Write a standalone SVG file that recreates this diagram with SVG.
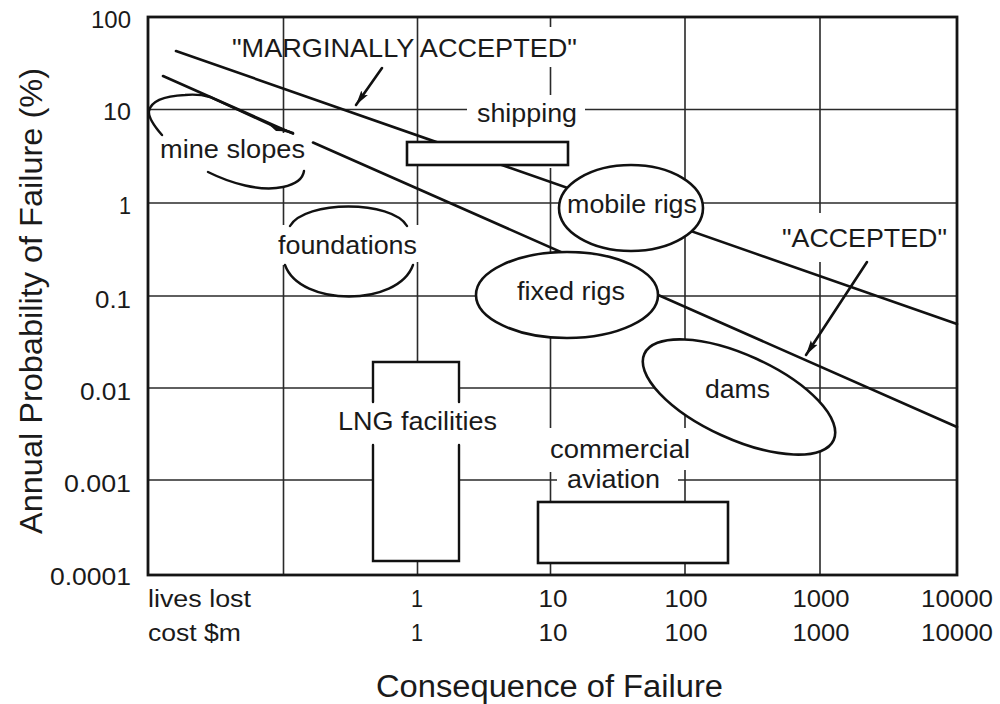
<svg xmlns="http://www.w3.org/2000/svg" width="1000" height="704" viewBox="0 0 1000 704">
  <style>
    text { font-family: "Liberation Sans", Arial, Helvetica, sans-serif; fill: #1a1a1a; }
    .grid { stroke: #2a2a2a; stroke-width: 1.6; fill: none; }
    .frame { stroke: #151515; stroke-width: 2.8; fill: none; }
    .line { stroke: #111; stroke-width: 2.6; fill: none; stroke-linecap: round; }
    .shape { stroke: #111; stroke-width: 2.6; fill: #fff; }
    .open { stroke: #111; stroke-width: 2.4; fill: none; stroke-linecap: round; }
    .lbl { font-size: 25px; }
    .tick { font-size: 23.5px; }
    .title { font-size: 31px; }
  </style>
  <defs>
    <marker id="arrowhead" markerUnits="userSpaceOnUse" markerWidth="18" markerHeight="12" refX="15" refY="6" orient="auto">
      <path d="M0,2 L15,6 L0,10 L3,6 Z" fill="#111"/>
    </marker>
  </defs>
  <rect width="1000" height="704" fill="#fff"/>

  <!-- log-log grid and frame -->
  <g id="axes">
    <g class="grid">
      <!-- horizontal decades: 10, 1, 0.1, 0.01, 0.001 % -->
      <path d="M148,109.5 H467 M585,109.5 H957"/>
      <path d="M148,203 H957"/>
      <path d="M148,296 H957"/>
      <path d="M148,388 H957"/>
      <path d="M148,480 H557 M678,480 H957"/>
      <!-- vertical decades -->
      <path d="M283.5,17 V133 M283.5,187 V225 M283.5,265 V575"/>
      <path d="M417.5,17 V225 M417.5,262 V362 M417.5,561 V575"/>
      <path d="M550.5,17 V27 M550.5,67 V95 M550.5,168 V428 M550.5,472 V575"/>
      <path d="M685,17 V428 M685,470 V575"/>
      <path d="M820,17 V213 M820,262 V575"/>
    </g>
    <rect class="frame" x="148" y="17" width="809" height="558"/>

    <!-- probability axis -->
    <g class="tick" text-anchor="end">
      <text x="131" y="28" textLength="40" lengthAdjust="spacingAndGlyphs">100</text>
      <text x="131" y="120" textLength="28" lengthAdjust="spacingAndGlyphs">10</text>
      <text x="131" y="214" textLength="12" lengthAdjust="spacingAndGlyphs">1</text>
      <text x="131" y="308" textLength="36" lengthAdjust="spacingAndGlyphs">0.1</text>
      <text x="131" y="400" textLength="51" lengthAdjust="spacingAndGlyphs">0.01</text>
      <text x="131" y="492" textLength="67" lengthAdjust="spacingAndGlyphs">0.001</text>
      <text x="131" y="585" textLength="81" lengthAdjust="spacingAndGlyphs">0.0001</text>
    </g>
    <text class="title" transform="translate(42,301) rotate(-90)" text-anchor="middle" textLength="466" lengthAdjust="spacingAndGlyphs">Annual Probability of Failure (%)</text>

    <!-- consequence axis -->
    <g class="tick">
      <text x="148" y="607" textLength="103" lengthAdjust="spacingAndGlyphs">lives lost</text>
      <text x="148" y="641" textLength="93" lengthAdjust="spacingAndGlyphs">cost $m</text>
    </g>
    <g class="tick" text-anchor="middle">
      <text x="417" y="607" textLength="12" lengthAdjust="spacingAndGlyphs">1</text>
      <text x="553" y="607" textLength="29" lengthAdjust="spacingAndGlyphs">10</text>
      <text x="686" y="607" textLength="43" lengthAdjust="spacingAndGlyphs">100</text>
      <text x="821" y="607" textLength="57" lengthAdjust="spacingAndGlyphs">1000</text>
      <text x="957" y="607" textLength="72" lengthAdjust="spacingAndGlyphs">10000</text>
      <text x="417" y="641" textLength="12" lengthAdjust="spacingAndGlyphs">1</text>
      <text x="553" y="641" textLength="29" lengthAdjust="spacingAndGlyphs">10</text>
      <text x="686" y="641" textLength="43" lengthAdjust="spacingAndGlyphs">100</text>
      <text x="821" y="641" textLength="57" lengthAdjust="spacingAndGlyphs">1000</text>
      <text x="957" y="641" textLength="72" lengthAdjust="spacingAndGlyphs">10000</text>
    </g>
    <text class="title" x="549.5" y="697" text-anchor="middle" textLength="347" lengthAdjust="spacingAndGlyphs">Consequence of Failure</text>
  </g>

  <!-- acceptance criteria lines and their callouts -->
  <g id="connectors">
    <path id="marginal-line" class="line" d="M176,51 L957,324"/>
    <path id="accepted-line" class="line" d="M163,76 L293,133.6 M313,142.5 L957,427"/>
    <path class="line" d="M382,68 L356,105" marker-end="url(#arrowhead)"/>
    <path class="line" d="M867,262 L806,355" marker-end="url(#arrowhead)"/>
  </g>

  <g id="mine-slopes">
    <path class="open" d="M162,135 C155,127 148,118 149,111 C151,101 165,96 185,95 C196,94 203,95 210,97 L281,129.5 L293,133"/>
    <path d="M266,122 L292,131.5 L276,131 Z" fill="#111"/>
    <path class="open" d="M208,172 C230,183 260,192 283,187 C297,184 303,178 304,171"/>
    <text class="lbl" x="160" y="158" textLength="145" lengthAdjust="spacingAndGlyphs">mine slopes</text>
  </g>

  <g id="shipping">
    <rect class="shape" x="407" y="142" width="161" height="23" stroke-width="3"/>
    <text class="lbl" x="477" y="122" textLength="100" lengthAdjust="spacingAndGlyphs">shipping</text>
  </g>

  <g id="foundations">
    <path class="open" d="M290,226 C305,200 392,200 407,226"/>
    <path class="open" d="M285,265 C300,307 398,307 413,265"/>
    <text class="lbl" x="278" y="254" textLength="139" lengthAdjust="spacingAndGlyphs">foundations</text>
  </g>

  <g id="mobile-rigs">
    <ellipse class="shape" cx="631" cy="208" rx="72" ry="43"/>
    <text class="lbl" x="567" y="213" textLength="130" lengthAdjust="spacingAndGlyphs">mobile rigs</text>
  </g>

  <g id="fixed-rigs">
    <ellipse class="shape" cx="567" cy="295" rx="91" ry="43"/>
    <text class="lbl" x="517" y="300" textLength="108" lengthAdjust="spacingAndGlyphs">fixed rigs</text>
  </g>

  <g id="dams">
    <ellipse class="shape" cx="0" cy="0" rx="104" ry="42" transform="translate(739,397) rotate(24.5)"/>
    <text class="lbl" x="705" y="398" textLength="65" lengthAdjust="spacingAndGlyphs">dams</text>
  </g>

  <g id="lng-facilities">
    <rect x="373" y="362" width="86" height="199" fill="#fff"/>
    <path class="open" stroke-width="3" stroke-linecap="butt" d="M373,402 V362 H459 V402 M459,445 V561 H373 V445"/>
    <text class="lbl" x="338" y="430" textLength="159" lengthAdjust="spacingAndGlyphs">LNG facilities</text>
  </g>

  <g id="commercial-aviation">
    <rect class="shape" x="538" y="502" width="190" height="61" stroke-width="3"/>
    <text class="lbl" x="550" y="458" textLength="140" lengthAdjust="spacingAndGlyphs">commercial</text>
    <text class="lbl" x="567" y="488" textLength="93" lengthAdjust="spacingAndGlyphs">aviation</text>
  </g>

  <g id="criteria-labels">
    <text class="lbl" x="232" y="57" textLength="345" lengthAdjust="spacingAndGlyphs">"MARGINALLY ACCEPTED"</text>
    <text class="lbl" x="782" y="247" textLength="165" lengthAdjust="spacingAndGlyphs">"ACCEPTED"</text>
  </g>
</svg>
